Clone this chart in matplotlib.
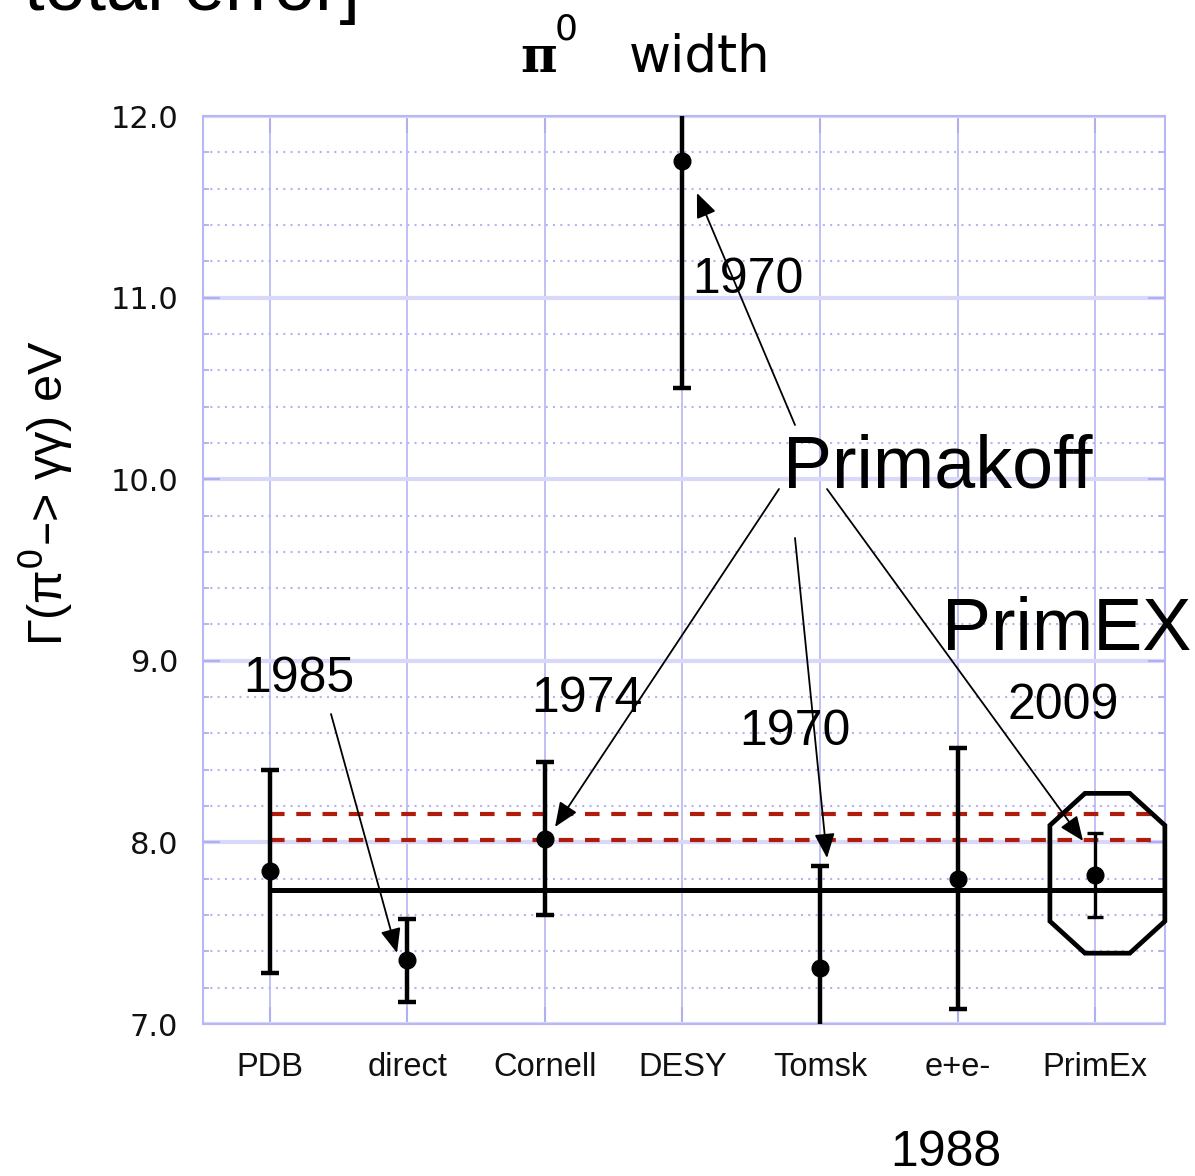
import matplotlib
matplotlib.use("Agg")
import matplotlib.pyplot as plt
from matplotlib import font_manager
from matplotlib.patches import Polygon
import numpy as np

W, H = 1195, 1176

# data
labels = ["PDB", "direct", "Cornell", "DESY", "Tomsk", "e+e-", "PrimEx"]
values = [7.84, 7.35, 8.02, 11.75, 7.31, 7.80, 7.82]
errors = [0.56, 0.23, 0.42, 1.25, 0.56, 0.72, 0.23]
average = 7.74
theory_band = [8.015, 8.155]

# annotation texts: (text, left px, baseline px, size)
notes = [
    ("1970", 692, 293, 36),
    ("Primakoff", 783, 488, 53),
    ("PrimEX", 942, 650, 53),
    ("1985", 243, 692, 36),
    ("1974", 531, 712, 36),
    ("1970", 739, 745, 36),
    ("2009", 1008, 719, 36),
    ("1988", 890, 1166, 36),
]
# arrows: tip in data coords, tail in pixels
arrows = [
    ((4.105, 11.576), (795, 425)),
    ((3.073, 8.085), (779, 489)),
    ((5.051, 7.914), (795, 538)),
    ((6.913, 8.008), (827, 489)),
    ((1.924, 7.391), (331, 714)),
]


def px(x, y):
    return x / W, 1 - y / H


names = {f.name for f in font_manager.fontManager.ttflist}
narrow = "Liberation Sans Narrow" if "Liberation Sans Narrow" in names else "Liberation Sans"
sans = "Liberation Sans"

fig = plt.figure(figsize=(W / 100, H / 100), dpi=100)
ax = fig.add_axes([203 / W, 1 - 1024 / H, (1165 - 203) / W, (1024 - 116) / H])

x = np.arange(1, len(labels) + 1)
ax.set_xlim(0.513, 7.509)
ax.set_ylim(7.0, 12.0)

grid_col = "#c0c0f6"
ax.set_yticks(np.arange(7, 12.01, 1.0))
ax.set_yticks(np.arange(7, 12.01, 0.2), minor=True)
ax.set_yticklabels([f"{v:.1f}" for v in np.arange(7, 12.01, 1.0)])
ax.set_xticks(x)
ax.set_xticklabels(labels)
ax.grid(axis="y", which="major", color="#d8d8fb", lw=3, zorder=0)
ax.grid(axis="y", which="minor", color="#b4b4f4", lw=1.5, ls=(0, (1, 2.5)), zorder=0)
ax.grid(axis="x", which="major", color=grid_col, lw=1.4, zorder=0)
for s in ax.spines.values():
    s.set_color("#b8b8f2")
    s.set_linewidth(1.5)

ax.tick_params(axis="y", which="major", direction="in", length=12, width=1.5,
               color="#b0b0f0", left=True, right=True, pad=18, labelsize=22,
               labelcolor="#111111")
ax.tick_params(axis="y", which="minor", direction="in", length=4, width=1.3,
               color="#b0b0f0", left=True, right=True)
ax.tick_params(axis="x", which="major", direction="in", length=12, width=1.5,
               color="#b0b0f0", top=True, bottom=True, pad=20, labelcolor="#111111")
for t in ax.get_yticklabels():
    t.set_fontfamily("DejaVu Sans")
for t in ax.get_xticklabels():
    t.set_fontfamily(narrow)
    t.set_fontsize(27 if narrow != sans else 23.5)

# reference lines
ax.plot([1, 7.509], [average, average], color="black", lw=3.6, zorder=3)
for yv in theory_band:
    ax.plot([1, 7.44], [yv, yv], color="#b01c0c", lw=3, ls=(0, (3.5, 2.8)), zorder=3)

# measurements
for i in range(len(labels)):
    thin = labels[i] == "PrimEx"
    ax.errorbar(x[i], values[i], yerr=errors[i], fmt="o", color="black",
                ms=12, elinewidth=2.4 if thin else 3.2, capsize=5.5 if thin else 6.5,
                capthick=2.4 if thin else 3.2, zorder=4)

# octagon around PrimEx point
cx, cy = x[-1] + 0.09, values[-1] + 0.01
hw, hh, cw, ch = 0.418, 0.44, 0.255, 0.176
octo = [(cx - hw + cw, cy + hh), (cx + hw - cw, cy + hh), (cx + hw, cy + hh - ch),
        (cx + hw, cy - hh + ch), (cx + hw - cw, cy - hh), (cx - hw + cw, cy - hh),
        (cx - hw, cy - hh + ch), (cx - hw, cy + hh - ch)]
ax.add_patch(Polygon(octo, closed=True, fill=False, ec="black", lw=3.4,
                     clip_on=False, zorder=5))

# arrows
for tip, tail in arrows:
    ax.annotate("", xy=tip, xycoords="data", xytext=px(*tail),
                textcoords="figure fraction", annotation_clip=False,
                arrowprops=dict(arrowstyle="-|>,head_length=0.6,head_width=0.25",
                                mutation_scale=25, lw=1.3, color="black",
                                shrinkA=0, shrinkB=0), zorder=6)

for txt, lx, by, size in notes:
    fig.text(*px(lx, by), txt, fontsize=size, family=sans, ha="left", va="baseline",
             zorder=7)

# partially cut-off text at the top left, as in the source slide
fig.text(*px(360, 10), "w/ total error]", fontsize=53, family=sans,
         ha="right", va="baseline")

# title
fig.text(*px(520, 72), "π", fontsize=36, family="DejaVu Serif", weight="bold",
         ha="left", va="baseline")
fig.text(*px(555, 40), "0", fontsize=26, family="DejaVu Sans", ha="left", va="baseline")
fig.text(*px(629, 72), "width", fontsize=37, family="DejaVu Sans", ha="left",
         va="baseline")

# y label
fig.text(*px(46, 493), "Γ(π$^0$–> γγ) eV", fontsize=35, family=sans,
         rotation=90, ha="center", va="center")

fig.savefig("out.png", dpi=100)
